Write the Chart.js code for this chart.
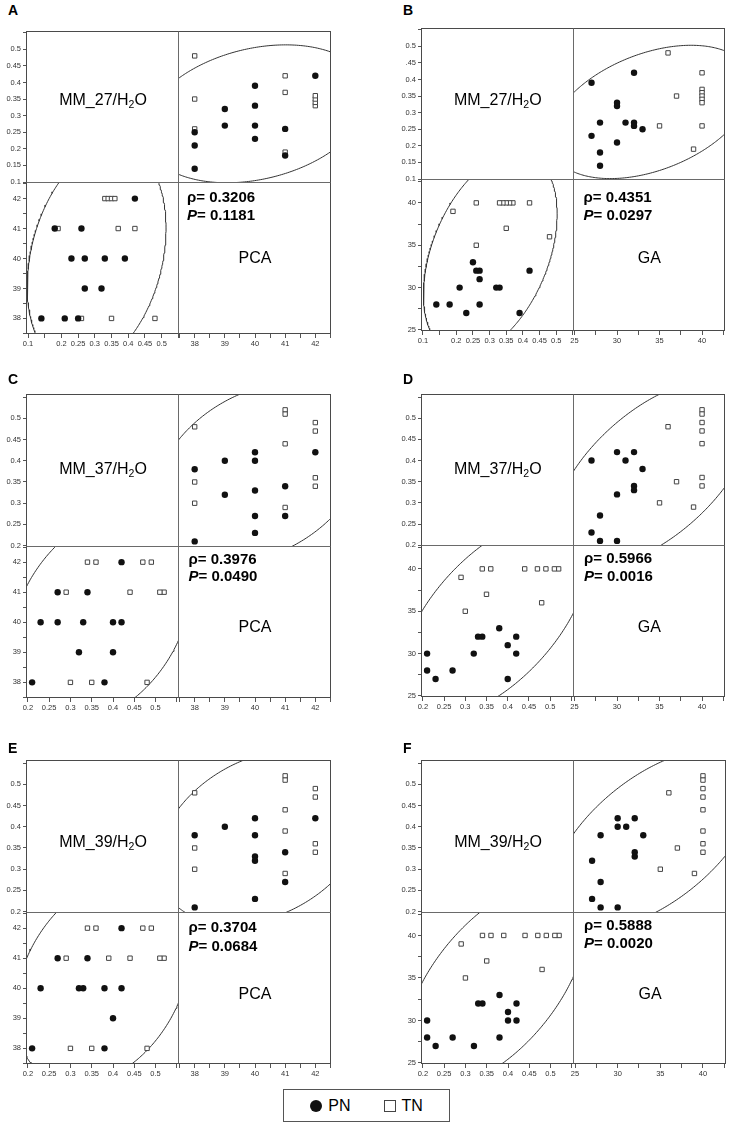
<!DOCTYPE html>
<html><head><meta charset="utf-8">
<script src="https://cdn.jsdelivr.net/npm/chart.js@4.4.1/dist/chart.umd.min.js"></script>
<style>
html,body{margin:0;padding:0;background:#fff;}
body{width:730px;height:1128px;position:relative;overflow:hidden;font-family:"Liberation Sans",Arial,Helvetica,sans-serif;color:#000;}
canvas{position:absolute;}
.lbl{position:absolute;white-space:nowrap;line-height:1;}
.letter{font-weight:bold;font-size:14px;}
.mm{font-size:16px;transform:translate(-50%,-50%);}
.mm sub{font-size:10.5px;vertical-align:-3px;line-height:0;}
.stat{font-weight:bold;font-size:15px;transform:translateY(-50%);}
.meth{font-size:16px;transform:translate(-50%,-50%);}
.legend{position:absolute;border:1px solid #555;display:flex;align-items:center;justify-content:center;font-size:16px;box-sizing:border-box;}
.dot{display:inline-block;width:12px;height:12px;border-radius:50%;background:#111;margin-right:6px;}
.sq{display:inline-block;width:10px;height:10px;border:1px solid #444;background:#fff;margin-right:5px;}
</style></head><body>
<script>
// ---------------- data ----------------
const A_PN_PCA  = [38,38,38,39,39,40,40,40,40,41,41,42];
const A_PN_MM27 = [0.25,0.21,0.14,0.32,0.27,0.39,0.33,0.27,0.23,0.26,0.18,0.42];
const A_TN_PCA  = [38,38,38,41,41,41,42,42,42,42];
const A_TN_MM27 = [0.48,0.35,0.26,0.42,0.37,0.19,0.33,0.34,0.35,0.36];

const B_PN_GA   = [27,28,27,28,28,30,30,30,31,32,32,32,33];
const B_PN_MM27 = [0.39,0.27,0.23,0.18,0.14,0.33,0.32,0.21,0.27,0.42,0.27,0.26,0.25];
const B_TN_GA   = [36,37,35,39,40,40,40,40,40,40,40];
const B_TN_MM27 = [0.48,0.35,0.26,0.19,0.42,0.37,0.36,0.35,0.34,0.33,0.26];

const C_PN_PCA  = [38,38,39,39,40,40,40,40,40,41,41,42];
const C_PN_MM37 = [0.38,0.21,0.40,0.32,0.42,0.40,0.33,0.27,0.23,0.34,0.27,0.42];
const C_TN_PCA  = [38,38,38,41,41,41,41,42,42,42,42];
const C_TN_MM37 = [0.48,0.35,0.30,0.52,0.51,0.44,0.29,0.49,0.47,0.36,0.34];

const D_PN_GA   = [27,30,31,32,33,32,32,30,28,27,28,30];
const D_PN_MM37 = [0.40,0.42,0.40,0.42,0.38,0.34,0.33,0.32,0.27,0.23,0.21,0.21];
const D_TN_GA   = [36,37,35,39,40,40,40,40,40,40,40];
const D_TN_MM37 = [0.48,0.35,0.30,0.29,0.52,0.51,0.49,0.47,0.44,0.36,0.34];

const E_PN_PCA  = [38,38,39,40,40,40,40,40,41,41,42];
const E_PN_MM39 = [0.38,0.21,0.40,0.42,0.38,0.33,0.32,0.23,0.34,0.27,0.42];
const E_TN_PCA  = [38,38,38,41,41,41,41,41,42,42,42,42];
const E_TN_MM39 = [0.48,0.35,0.30,0.52,0.51,0.44,0.39,0.29,0.49,0.47,0.36,0.34];

const F_PN_GA   = [30,32,30,31,28,33,32,32,27,28,27,28,30];
const F_PN_MM39 = [0.42,0.42,0.40,0.40,0.38,0.38,0.34,0.33,0.32,0.27,0.23,0.21,0.21];
const F_TN_GA   = [40,40,40,40,40,40,40,40,36,37,35,39];
const F_TN_MM39 = [0.52,0.51,0.49,0.47,0.44,0.39,0.36,0.34,0.48,0.35,0.30,0.29];

const PANEL_IDS = ['A','B','C','D','E','F'];
const RHO     = ['0.3206','0.4351','0.3976','0.5966','0.3704','0.5888'];
const PVAL    = ['0.1181','0.0297','0.0490','0.0016','0.0684','0.0020'];
const MM_NAME = ['MM_27','MM_27','MM_37','MM_37','MM_39','MM_39'];
const METHOD  = ['PCA','GA','PCA','GA','PCA','GA'];
const GROUPS  = ['PN','TN'];

// tick values and tick labels
const MM27_TICKS     = [0.10,0.15,0.20,0.25,0.30,0.35,0.40,0.45,0.50];
const MM27_Y_LABELS  = ['0.1','0.15','0.2','0.25','0.3','0.35','0.4','0.45','0.5'];
const MM27_Y_LABELS_B= ['0.1','0.15','0.2','0.25','0.3','0.35','0.4','.45','0.5'];
const MM27_X_LABELS  = ['0.1','','0.2','0.25','0.3','0.35','0.4','0.45','0.5'];
const MM3X_TICKS     = [0.20,0.25,0.30,0.35,0.40,0.45,0.50];
const MM3X_LABELS    = ['0.2','0.25','0.3','0.35','0.4','0.45','0.5'];
const PCA_TICKS      = [38,39,40,41,42];
const PCA_LABELS     = ['38','39','40','41','42'];
const GA_TICKS       = [25,30,35,40];
const GA_LABELS      = ['25','30','35','40'];

// ---------------- layout / styling ----------------
const AX = {
  MM27:{range:[0.097,0.552], step:0.05},
  MM3X:{range:[0.198,0.555], step:0.05},
  PCA: {range:[37.48,42.52], step:0.5, ticks:PCA_TICKS, labels:PCA_LABELS},
  GA:  {range:[24.88,42.70], step:2.5, ticks:GA_TICKS, labels:GA_LABELS}
};
const PANELS = [
  {L:27, T:32,  R:331, B:334,  pn:[A_PN_PCA,A_PN_MM27], tn:[A_TN_PCA,A_TN_MM27], x:'PCA', mm:'MM27', mmT:MM27_TICKS, yLab:MM27_Y_LABELS,   xLab:MM27_X_LABELS, letter:[8,3],    mmY:68, sdx:8,   s1:13,   s2:31,   mdy:75},
  {L:422,T:29,  R:725, B:331,  pn:[B_PN_GA,B_PN_MM27],  tn:[B_TN_GA,B_TN_MM27],  x:'GA',  mm:'MM27', mmT:MM27_TICKS, yLab:MM27_Y_LABELS_B, xLab:MM27_X_LABELS, letter:[403,3],  mmY:71, sdx:10,  s1:15.5, s2:34,   mdy:77.5},
  {L:27, T:395, R:331, B:698,  pn:[C_PN_PCA,C_PN_MM37], tn:[C_TN_PCA,C_TN_MM37], x:'PCA', mm:'MM3X', mmT:MM3X_TICKS, yLab:MM3X_LABELS,     xLab:MM3X_LABELS,   letter:[8,371.5],mmY:74, sdx:9.5, s1:11,   s2:28.5, mdy:80},
  {L:422,T:395, R:725, B:697,  pn:[D_PN_GA,D_PN_MM37],  tn:[D_TN_GA,D_TN_MM37],  x:'GA',  mm:'MM3X', mmT:MM3X_TICKS, yLab:MM3X_LABELS,     xLab:MM3X_LABELS,   letter:[403,371.5],mmY:74,sdx:10.5,s1:11.3, s2:29,   mdy:80.5},
  {L:27, T:761, R:331, B:1064, pn:[E_PN_PCA,E_PN_MM39], tn:[E_TN_PCA,E_TN_MM39], x:'PCA', mm:'MM3X', mmT:MM3X_TICKS, yLab:MM3X_LABELS,     xLab:MM3X_LABELS,   letter:[8,741],  mmY:80.5,sdx:9.5, s1:13.8, s2:32.5, mdy:81},
  {L:422,T:761, R:726, B:1064, pn:[F_PN_GA,F_PN_MM39],  tn:[F_TN_GA,F_TN_MM39],  x:'GA',  mm:'MM3X', mmT:MM3X_TICKS, yLab:MM3X_LABELS,     xLab:MM3X_LABELS,   letter:[403,741],mmY:80.5,sdx:10,  s1:11.5, s2:29.8, mdy:81}
];
const YW = 27, XH = 16, PADT = 10, PADR = 10;
const TICK_FONT = {family:'"Liberation Sans", Arial, sans-serif', size:7.5};

function pts(xs, ys){ return xs.map((v,i)=>({x:v, y:ys[i]})); }
function mean(a){ return a.reduce((s,v)=>s+v,0)/a.length; }
// 95% bivariate-normal density ellipse of the pooled data
function ellipse(xs, ys){
  const n = xs.length, mx = mean(xs), my = mean(ys);
  let sxx=0, syy=0, sxy=0;
  for (let i=0;i<n;i++){ const dx=xs[i]-mx, dy=ys[i]-my; sxx+=dx*dx; syy+=dy*dy; sxy+=dx*dy; }
  sxx/=n; syy/=n; sxy/=n;
  const sx=Math.sqrt(sxx), sy=Math.sqrt(syy), r=sxy/(sx*sy), c=Math.sqrt(5.991);
  const out=[];
  for (let k=0;k<=360;k++){
    const t=2*Math.PI*k/360;
    out.push({x: mx + c*sx*Math.cos(t), y: my + c*sy*(r*Math.cos(t) + Math.sqrt(1-r*r)*Math.sin(t))});
  }
  return out;
}
function axis(position, stack, cfg, tickVals, tickLabs){
  return {
    type:'linear', position, stack, stackWeight:1,
    min:cfg.range[0], max:cfg.range[1], offset:false,
    grid:{drawOnChartArea:false, drawTicks:true, tickLength:4, color:'#555', lineWidth:1},
    border:{display:false},
    ticks:{stepSize:cfg.step, autoSkip:false, maxRotation:0, minRotation:0, includeBounds:false,
      padding: position==='left'?2:1, color:'#333', font:TICK_FONT,
      callback:(v)=>{ const i = tickVals.findIndex(t=>Math.abs(t-v)<1e-6); return i>=0 ? tickLabs[i] : ''; }},
    afterFit:(s)=>{ if (position==='left') s.width = YW; else s.height = XH; }
  };
}
const framePlugin = {
  id:'frame',
  afterDatasetsDraw(chart){
    const {ctx, chartArea:a, scales} = chart;
    const l=Math.round(a.left)-0.5, t=Math.round(a.top)-0.5, r=Math.round(a.right)-0.5, b=Math.round(a.bottom)-0.5;
    ctx.save();
    ctx.lineWidth=1;
    ctx.strokeStyle='#4a4a4a';
    ctx.strokeRect(l,t,r-l,b-t);
    ctx.strokeStyle='#6a6a6a';
    const vx=Math.round(scales.xR.left)-0.5, hy=Math.round(scales.yB.top)-0.5;
    ctx.beginPath(); ctx.moveTo(vx,t); ctx.lineTo(vx,b); ctx.moveTo(l,hy); ctx.lineTo(r,hy); ctx.stroke();
    ctx.restore();
  }
};
const cellClip = {
  id:'cellClip',
  beforeDatasetDraw(chart, args){
    const m=args.meta, ctx=chart.ctx;
    ctx.save(); ctx.beginPath();
    ctx.rect(m.xScale.left, m.yScale.top, m.xScale.right-m.xScale.left, m.yScale.bottom-m.yScale.top);
    ctx.clip();
  },
  afterDatasetDraw(chart){ chart.ctx.restore(); }
};
function addText(html, cls, left, top){
  const d=document.createElement('div');
  d.className='lbl '+cls; d.innerHTML=html;
  d.style.left=left+'px'; d.style.top=top+'px';
  document.body.appendChild(d);
}
const PN_STYLE = {pointStyle:'circle', pointRadius:3.2, backgroundColor:'#111', borderColor:'#111', borderWidth:0, order:0};
const TN_STYLE = {pointStyle:'rect', pointRadius:3.1, backgroundColor:'#fff', borderColor:'#444', borderWidth:1, order:1};
const EL_STYLE = {showLine:true, pointRadius:0, borderColor:'#333', borderWidth:1, fill:false, tension:0, order:2};

PANELS.forEach((p, i)=>{
  const W = p.R - p.L + YW + PADR, H = p.B - p.T + PADT + XH;
  const cv = document.createElement('canvas');
  cv.width=W; cv.height=H;
  cv.style.left=(p.L-YW)+'px'; cv.style.top=(p.T-PADT)+'px';
  cv.style.width=W+'px'; cv.style.height=H+'px';
  document.body.appendChild(cv);
  const xc = AX[p.x], mc = AX[p.mm];
  const allX = p.pn[0].concat(p.tn[0]), allM = p.pn[1].concat(p.tn[1]);
  new Chart(cv, {
    type:'scatter',
    data:{datasets:[
      Object.assign({label:GROUPS[0], data:pts(p.pn[0],p.pn[1]), xAxisID:'xR', yAxisID:'yT'}, PN_STYLE),
      Object.assign({label:GROUPS[1], data:pts(p.tn[0],p.tn[1]), xAxisID:'xR', yAxisID:'yT'}, TN_STYLE),
      Object.assign({label:GROUPS[0], data:pts(p.pn[1],p.pn[0]), xAxisID:'xL', yAxisID:'yB'}, PN_STYLE),
      Object.assign({label:GROUPS[1], data:pts(p.tn[1],p.tn[0]), xAxisID:'xL', yAxisID:'yB'}, TN_STYLE),
      Object.assign({label:'ellipse', data:ellipse(allX, allM), xAxisID:'xR', yAxisID:'yT'}, EL_STYLE),
      Object.assign({label:'ellipse', data:ellipse(allM, allX), xAxisID:'xL', yAxisID:'yB'}, EL_STYLE)
    ]},
    options:{
      responsive:false, animation:false, devicePixelRatio:1, events:[],
      layout:{padding:{left:0, top:PADT, right:PADR, bottom:0}},
      plugins:{legend:{display:false}, tooltip:{enabled:false}},
      scales:{
        xL: axis('bottom','x', mc, p.mmT, p.xLab),
        xR: axis('bottom','x', xc, xc.ticks, xc.labels),
        yB: axis('left','y', xc, xc.ticks, xc.labels),
        yT: axis('left','y', mc, p.mmT, p.yLab)
      }
    },
    plugins:[cellClip, framePlugin]
  });
  const vdiv=(p.L+p.R)/2, hdiv=(p.T+p.B)/2;
  addText(PANEL_IDS[i], 'letter', p.letter[0], p.letter[1]);
  addText(MM_NAME[i]+'/H<sub>2</sub>O', 'mm', (p.L+vdiv)/2, p.T+p.mmY);
  addText('\u03C1= '+RHO[i], 'stat', vdiv+p.sdx, hdiv+p.s1);
  addText('<i>P</i>= '+PVAL[i], 'stat', vdiv+p.sdx, hdiv+p.s2);
  addText(METHOD[i], 'meth', (vdiv+p.R)/2, hdiv+p.mdy);
});

// legend
const lg=document.createElement('div');
lg.className='legend';
lg.style.left='283px'; lg.style.top='1089px'; lg.style.width='167px'; lg.style.height='33px';
lg.innerHTML='<span class="dot"></span><span>'+GROUPS[0]+'</span><span style="display:inline-block;width:34px"></span><span class="sq"></span><span>'+GROUPS[1]+'</span>';
document.body.appendChild(lg);
</script>
</body></html>
